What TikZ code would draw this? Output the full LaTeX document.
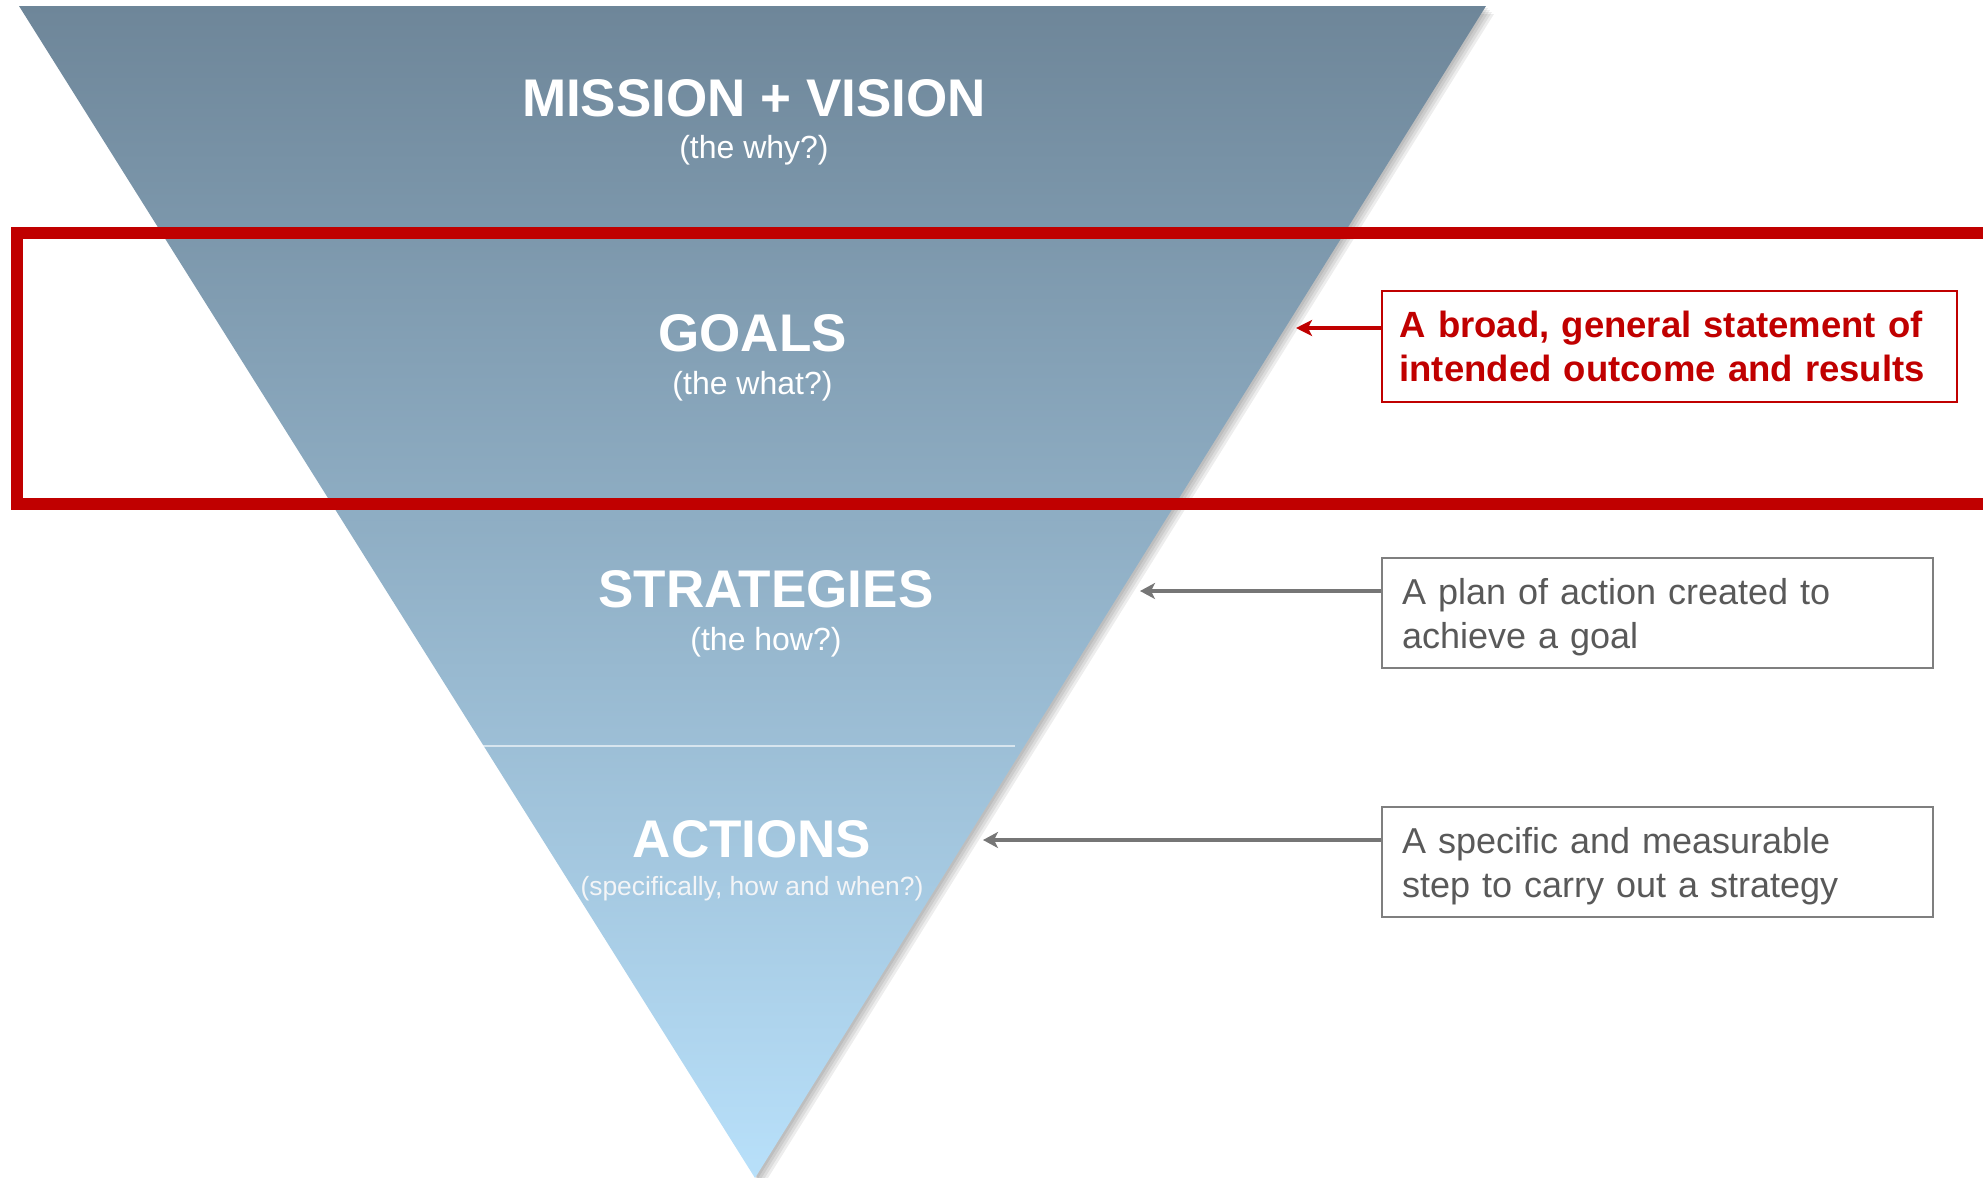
\documentclass[tikz,border=0pt]{standalone}
\usepackage{fontspec}
\setmainfont{Liberation Sans}
\usetikzlibrary{arrows.meta}
\definecolor{topblue}{HTML}{6E8699}
\definecolor{botblue}{HTML}{B8E0FA}
\definecolor{framered}{HTML}{C00000}
\definecolor{txtgray}{HTML}{595959}
\definecolor{boxgray}{HTML}{7F7F7F}
\definecolor{arrgray}{HTML}{767676}
\newcommand{\firstlineraise}{\rule{0pt}{17pt}}
\begin{document}
\begin{tikzpicture}[x=0.5pt,y=-0.5pt,
  titletext/.style={text=white,inner sep=0pt,font=\fontsize{26.5}{30}\selectfont\bfseries},
  subtext/.style={text=white,inner sep=0pt,font=\fontsize{16}{19}\selectfont},
  smallsub/.style={text=white!92!topblue,inner sep=0pt,font=\fontsize{13.2}{16}\selectfont},
  redbox/.style={draw=framered,line width=1pt,text=framered,align=left,
    font=\fontsize{18.25}{22}\selectfont\bfseries,text width=270pt,inner xsep=8.75pt,
    minimum height=55.5pt,anchor=west},
  graybox/.style={draw=boxgray,line width=1pt,text=txtgray,align=left,
    font=\fontsize{18}{22}\selectfont,text width=255.5pt,inner xsep=10pt,
    minimum height=55pt,anchor=west},
  redarrow/.style={draw=framered,line width=2pt,-{Stealth[length=8pt,width=8pt,inset=2pt]}},
  grayarrow/.style={draw=arrgray,line width=1.8pt,-{Stealth[length=7.5pt,width=8pt,inset=2pt]}}]
\useasboundingbox (0,0) rectangle (1983,1178);
% drop shadow of the funnel
\foreach \d in {2,4,6,8}
  \fill[black,opacity=0.07] (19+\d,6+\d) -- (1486+\d,6+\d) -- (755+\d,1178+\d) -- cycle;
% funnel
\shade[top color=topblue,bottom color=botblue] (19,6) -- (1486,6) -- (755,1178) -- cycle;
% divider between strategies and actions
\draw[white,opacity=0.6,line width=1.1pt] (483,746) -- (1015,746);
% red highlight frame
\begin{scope}
  \clip (0,0) rectangle (1983,1178);
  \draw[framered,line width=6pt] (17,232.5) rectangle (1995,504);
\end{scope}
% labels in the funnel
\node[titletext] (mv) at (754,98) {MISSION + VISION};
\node[subtext] (mvs) at (754,150) {(the why?)};
\node[titletext] (go) at (752.5,333) {GOALS};
\node[subtext] (gos) at (752.5,386) {(the what?)};
\node[titletext] (st) at (766,589) {STRATEGIES};
\node[subtext] (sts) at (766,642) {(the how?)};
\node[titletext] (ac) at (752,839) {ACTIONS};
\node[smallsub] (acs) at (752,889) {(specifically, how and when?)};
% description boxes
\node[redbox] (rb) at (1381,346.5) {A broad, general statement of\\intended outcome and results};
\node[graybox] (gb1) at (1381,613) {\firstlineraise A plan of action created to\\achieve a goal};
\node[graybox] (gb2) at (1381,862) {\firstlineraise A specific and measurable\\step to carry out a strategy};
% arrows
\coordinate (t0) at (1296,328);
\coordinate (t1) at (1140,591);
\coordinate (t2) at (983,840);
\draw[redarrow] (rb.west |- t0) -- (t0);
\draw[grayarrow] (gb1.west |- t1) -- (t1);
\draw[grayarrow] (gb2.west |- t2) -- (t2);
\end{tikzpicture}
\end{document}
